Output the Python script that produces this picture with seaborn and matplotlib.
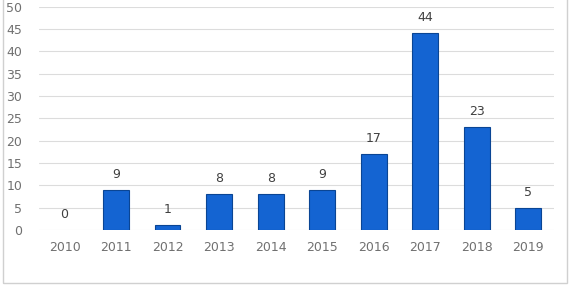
import pandas as pd
import matplotlib.pyplot as plt
import seaborn as sns
from matplotlib.patches import Rectangle

# 연도별 건수
years = ['2010', '2011', '2012', '2013', '2014', '2015', '2016', '2017', '2018', '2019']
counts = [0, 9, 1, 8, 8, 9, 17, 44, 23, 5]

df = pd.DataFrame({'year': years, 'count': counts})

sns.set_style('white')
fig = plt.figure(figsize=(5.7, 2.87), dpi=100)
ax = fig.add_axes([0.068, 0.199, 0.904, 0.778])

sns.barplot(data=df, x='year', y='count', color='#1464d2', saturation=1, width=0.5,
            edgecolor='#0a4594', linewidth=0.8, ax=ax, zorder=3)
# 0 인 막대는 테두리 없이
for p in ax.patches:
    if p.get_height() == 0:
        p.set_edgecolor('none')

for i, v in enumerate(counts):
    ax.text(i, v + 2.0, str(v), ha='center', va='bottom', fontsize=9, color='#404040')

ax.set_ylim(0, 50)
ax.set_yticks(range(0, 51, 5))
ax.yaxis.grid(True, color='#dcdcdc', linewidth=0.8, zorder=0)
ax.set_axisbelow(True)
ax.set_xlabel('')
ax.set_ylabel('')
for s in ax.spines.values():
    s.set_visible(False)
ax.tick_params(axis='both', length=0, labelsize=9, labelcolor='#707070')
ax.tick_params(axis='y', pad=12)
ax.tick_params(axis='x', pad=8)

fig.patches.append(Rectangle((3 / 570, 4 / 287), 564 / 570, 1.0, transform=fig.transFigure,
                             fill=False, edgecolor='#d0d0d0', linewidth=1))

fig.savefig('out.png', dpi=100)
